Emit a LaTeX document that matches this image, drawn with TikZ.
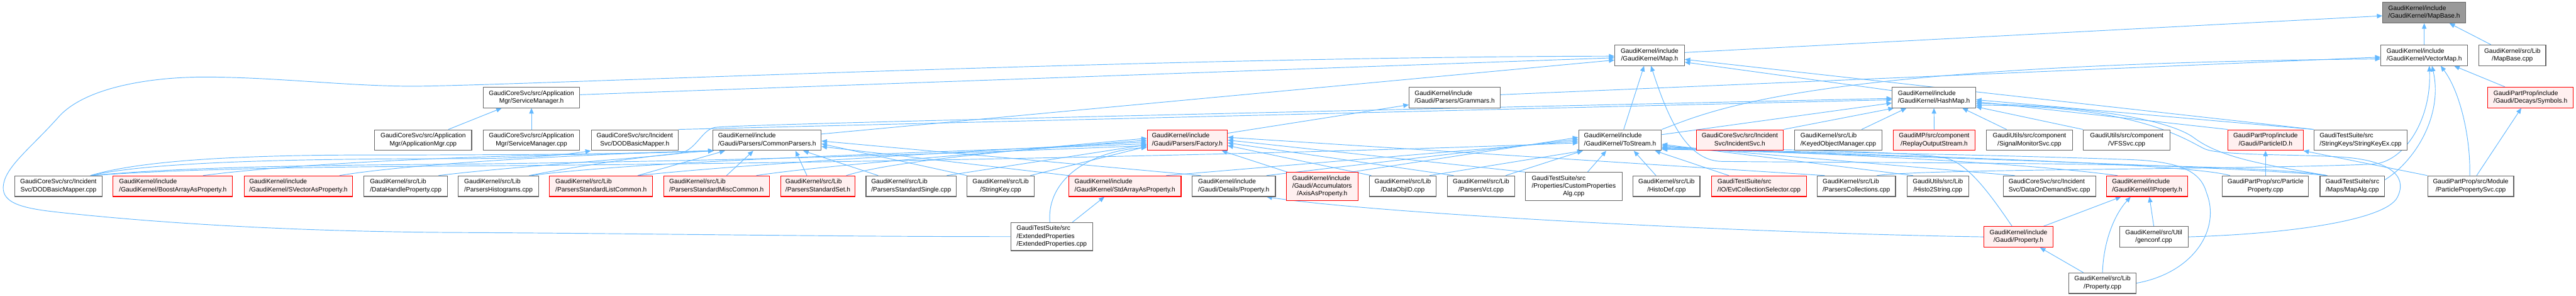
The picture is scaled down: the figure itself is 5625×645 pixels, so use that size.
\documentclass[tikz,border=0pt]{standalone}
\usepackage{fontspec}
\setmainfont{Liberation Sans}
\usetikzlibrary{arrows.meta}
\definecolor{edgec}{HTML}{63B8FF}
\definecolor{bordc}{HTML}{666666}
\definecolor{redb}{HTML}{FF0000}
\definecolor{redf}{HTML}{FFF0F0}
\definecolor{rootf}{HTML}{999999}
\newcommand\dlab[2]{\begin{tabular}{@{}l@{}}#1\\\multicolumn{1}{@{}c@{}}{#2}\end{tabular}}
\newcommand\tlab[3]{\begin{tabular}{@{}l@{}}#1\\#2\\\multicolumn{1}{@{}c@{}}{#3}\end{tabular}}
\pgfdeclarelayer{bg}\pgfsetlayers{bg,main}
\begin{document}
\begin{tikzpicture}[x=1pt,y=-1pt,
  nd/.style={draw=bordc, fill=white, line width=1.5pt, inner sep=0pt, minimum height=45pt, font=\fontsize{14}{17}\selectfont, text=black},
  rnd/.style={nd, draw=redb, fill=redf},
  gnd/.style={nd, draw=bordc, fill=rootf},
  nd3/.style={minimum height=61pt},
  dep/.style={draw=edgec, line width=1.3pt, -{Triangle[length=12pt,width=10pt]}}]
\useasboundingbox (0,0) rectangle (5625,645);
% row 0
\node[gnd,minimum width=181pt] (mapbase) at (5293.5,27.5) {\dlab{GaudiKernel/include}{/GaudiKernel/MapBase.h}};
% row 1
\node[nd,minimum width=152pt] (map) at (3602,120.5) {\dlab{GaudiKernel/include}{/GaudiKernel/Map.h}};
\node[nd,minimum width=189pt] (vmap) at (5293.5,120.5) {\dlab{GaudiKernel/include}{/GaudiKernel/VectorMap.h}};
\node[nd,minimum width=146pt] (mapbasecpp) at (5486,120.5) {\dlab{GaudiKernel/src/Lib}{/MapBase.cpp}};
% row 2
\node[nd,minimum width=211pt] (svcmgrh) at (1160.5,212.5) {\dlab{GaudiCoreSvc/src/Application}{Mgr/ServiceManager.h}};
\node[nd,minimum width=199pt] (grammars) at (3176.5,212.5) {\dlab{GaudiKernel/include}{/Gaudi/Parsers/Grammars.h}};
\node[nd,minimum width=182pt] (hashmap) at (4223,212.5) {\dlab{GaudiKernel/include}{/GaudiKernel/HashMap.h}};
\node[rnd,minimum width=187pt] (symbols) at (5525.5,212.5) {\dlab{GaudiPartProp/include}{/Gaudi/Decays/Symbols.h}};
% row 3
\node[nd,minimum width=212pt] (appmgr) at (924,305.5) {\dlab{GaudiCoreSvc/src/Application}{Mgr/ApplicationMgr.cpp}};
\node[nd,minimum width=211pt] (svcmgrcpp) at (1160.5,305.5) {\dlab{GaudiCoreSvc/src/Application}{Mgr/ServiceManager.cpp}};
\node[nd,minimum width=190pt] (dodh) at (1386,305.5) {\dlab{GaudiCoreSvc/src/Incident}{Svc/DODBasicMapper.h}};
\node[nd,minimum width=236pt] (common) at (1675,305.5) {\dlab{GaudiKernel/include}{/Gaudi/Parsers/CommonParsers.h}};
\node[rnd,minimum width=175pt] (factory) at (2592.5,305.5) {\dlab{GaudiKernel/include}{/Gaudi/Parsers/Factory.h}};
\node[nd,minimum width=181pt] (tostream) at (3537.5,305.5) {\dlab{GaudiKernel/include}{/GaudiKernel/ToStream.h}};
\node[rnd,minimum width=190pt] (incsvc) at (3799,305.5) {\dlab{GaudiCoreSvc/src/Incident}{Svc/IncidentSvc.h}};
\node[nd,minimum width=190pt] (keyed) at (4014,305.5) {\dlab{GaudiKernel/src/Lib}{/KeyedObjectManager.cpp}};
\node[rnd,minimum width=179pt] (replay) at (4223.5,305.5) {\dlab{GaudiMP/src/component}{/ReplayOutputStream.h}};
\node[nd,minimum width=189pt] (signal) at (4431.5,305.5) {\dlab{GaudiUtils/src/component}{/SignalMonitorSvc.cpp}};
\node[nd,minimum width=190pt] (vfs) at (4644,305.5) {\dlab{GaudiUtils/src/component}{/VFSSvc.cpp}};
\node[rnd,minimum width=164pt] (pid) at (4947,305.5) {\dlab{GaudiPartProp/include}{/Gaudi/ParticleID.h}};
\node[nd,minimum width=203pt] (skex) at (5154.5,305.5) {\dlab{GaudiTestSuite/src}{/StringKeys/StringKeyEx.cpp}};
% row 4
\node[nd,minimum width=191pt] (dodcpp) at (127.5,406) {\dlab{GaudiCoreSvc/src/Incident}{Svc/DODBasicMapper.cpp}};
\node[rnd,minimum width=261pt] (boost) at (377.5,406) {\dlab{GaudiKernel/include}{/GaudiKernel/BoostArrayAsProperty.h}};
\node[rnd,minimum width=237pt] (svector) at (651.5,406) {\dlab{GaudiKernel/include}{/GaudiKernel/SVectorAsProperty.h}};
\node[nd,minimum width=182pt] (dhp) at (886,406) {\dlab{GaudiKernel/src/Lib}{/DataHandleProperty.cpp}};
\node[nd,minimum width=175pt] (phisto) at (1088.5,406) {\dlab{GaudiKernel/src/Lib}{/ParsersHistograms.cpp}};
\node[rnd,minimum width=225pt] (plist) at (1312.5,406) {\dlab{GaudiKernel/src/Lib}{/ParsersStandardListCommon.h}};
\node[rnd,minimum width=231pt] (pmisc) at (1564.5,406) {\dlab{GaudiKernel/src/Lib}{/ParsersStandardMiscCommon.h}};
\node[rnd,minimum width=162pt] (pset) at (1786,406) {\dlab{GaudiKernel/src/Lib}{/ParsersStandardSet.h}};
\node[nd,minimum width=197pt] (psingle) at (1989.5,406) {\dlab{GaudiKernel/src/Lib}{/ParsersStandardSingle.cpp}};
\node[nd,minimum width=146pt] (skey) at (2185,406) {\dlab{GaudiKernel/src/Lib}{/StringKey.cpp}};
\node[rnd,minimum width=245pt] (stdarr) at (2456.5,406) {\dlab{GaudiKernel/include}{/GaudiKernel/StdArrayAsProperty.h}};
\node[nd,minimum width=182pt] (detprop) at (2694,406) {\dlab{GaudiKernel/include}{/Gaudi/Details/Property.h}};
\node[rnd,nd3,minimum width=156pt] (axis) at (2887,406.5) {\tlab{GaudiKernel/include}{/Gaudi/Accumulators}{/AxisAsProperty.h}};
\node[nd,minimum width=146pt] (dataobj) at (3063,406) {\dlab{GaudiKernel/src/Lib}{/DataObjID.cpp}};
\node[nd,minimum width=146pt] (pvct) at (3234,406) {\dlab{GaudiKernel/src/Lib}{/ParsersVct.cpp}};
\node[nd,nd3,minimum width=211pt] (custom) at (3436.5,406.5) {\tlab{GaudiTestSuite/src}{/Properties/CustomProperties}{Alg.cpp}};
\node[nd,minimum width=146pt] (histodef) at (3639,406) {\dlab{GaudiKernel/src/Lib}{/HistoDef.cpp}};
\node[rnd,minimum width=208pt] (evtcol) at (3841,406) {\dlab{GaudiTestSuite/src}{/IO/EvtCollectionSelector.cpp}};
\node[nd,minimum width=171pt] (pcoll) at (4053.5,406) {\dlab{GaudiKernel/src/Lib}{/ParsersCollections.cpp}};
\node[nd,minimum width=135pt] (h2s) at (4231.5,406) {\dlab{GaudiUtils/src/Lib}{/Histo2String.cpp}};
\node[nd,minimum width=202pt] (dods) at (4475,406) {\dlab{GaudiCoreSvc/src/Incident}{Svc/DataOnDemandSvc.cpp}};
\node[rnd,minimum width=177pt] (iprop) at (4688.5,406) {\dlab{GaudiKernel/include}{/GaudiKernel/IProperty.h}};
\node[nd,minimum width=188pt] (ppcpp) at (4947,406) {\dlab{GaudiPartProp/src/Particle}{Property.cpp}};
\node[nd,minimum width=141pt] (mapalg) at (5136.5,406) {\dlab{GaudiTestSuite/src}{/Maps/MapAlg.cpp}};
\node[nd,minimum width=188pt] (ppsvc) at (5395,406) {\dlab{GaudiPartProp/src/Module}{/ParticlePropertySvc.cpp}};
% row 5
\node[nd,nd3,minimum width=179pt] (ext) at (2296.5,516) {\tlab{GaudiTestSuite/src}{/ExtendedProperties}{/ExtendedProperties.cpp}};
\node[rnd,minimum width=151pt] (gprop) at (4407.5,516.5) {\dlab{GaudiKernel/include}{/Gaudi/Property.h}};
\node[nd,minimum width=150pt] (genconf) at (4703,516.5) {\dlab{GaudiKernel/src/Util}{/genconf.cpp}};
% row 6
\node[nd,minimum width=146pt] (propcpp) at (4591,617.5) {\dlab{GaudiKernel/src/Lib}{/Property.cpp}};

\begin{pgfonlayer}{bg}
% into MapBase.h
\draw[dep] ([yshift=6pt]map.east) -- ([yshift=-7pt]mapbase.west);
\draw[dep] (vmap.north) -- (mapbase.south);
\draw[dep] ([xshift=-47pt]mapbasecpp.north) -- ([xshift=55pt]mapbase.south);
% into Map.h
\draw[dep] ([yshift=6pt]svcmgrh.east) -- ([yshift=-5.5pt]map.west);
\draw[dep] ([yshift=-10pt]common.north east) -- ([yshift=-10.5pt]map.west);
\draw[dep] (ext.west) .. controls (1800,516) and (1400,509) .. (1000,507)
  .. controls (600,505) and (300,482) .. (120,462)
  .. controls (40,453) and (0,440) .. (8,400)
  .. controls (16,360) and (70,320) .. (128,255)
  .. controls (186,190) and (330,168) .. (446,168)
  .. controls (600,168) and (760,188) .. (900,188)
  .. controls (1100,188) and (2500,124) .. ([yshift=-2pt]map.west);
\draw[dep] ([xshift=8pt]tostream.north) -- ([xshift=-12pt]map.south);
\draw[dep] ([yshift=15pt]hashmap.west) -- ([yshift=-15pt]map.east);
\draw[dep] (skex.north west) -- ([yshift=-9pt]map.east);
\draw[dep] ([xshift=-55pt]mapalg.north) .. controls (4900,352) and (4100,356) .. (3760,352)
  .. controls (3680,351) and (3640,250) .. ([xshift=3pt]map.south);
% into VectorMap.h
\draw[dep] ([yshift=6pt]grammars.east) -- ([yshift=-4pt]vmap.west);
\draw[dep] (tostream.north east) .. controls (3740,240) and (3950,140) .. ([yshift=-8pt]vmap.west);
\draw[dep] ([xshift=-56pt]symbols.north) -- ([xshift=-30pt]vmap.south east);
\draw[dep] ([xshift=-2pt]ppsvc.north) .. controls (5395,300) and (5372,200) .. ([xshift=36pt]vmap.south);
\draw[dep] ([yshift=14pt]mapalg.east) .. controls (5275,350) and (5335,250) .. ([xshift=17pt]vmap.south);
\draw[dep] ([xshift=45pt]pcoll.north) .. controls (4200,368) and (4900,370) .. (5180,358)
  .. controls (5250,355) and (5310,260) .. ([xshift=11pt]vmap.south);
% into HashMap.h
\draw[dep] (dodh.north east) -- ([yshift=-5pt]hashmap.west);
\draw[dep] ([xshift=-20pt]dhp.north east) .. controls (1100,365) and (1400,345) .. (1480,335)
  .. controls (1520,330) and (1530,285) .. (1560,278)
  .. controls (1590,271) and (3000,240) .. ([yshift=-2pt]hashmap.west);
\draw[dep] ([yshift=12pt]tostream.east) -- ([yshift=-12pt]hashmap.west);
\draw[dep] (incsvc.north east) -- ([xshift=4pt]hashmap.south west);
\draw[dep] ([xshift=51pt]keyed.north) -- ([xshift=-60pt]hashmap.south);
\draw[dep] (replay.north) -- (hashmap.south);
\draw[dep] ([xshift=-50pt]signal.north) -- ([xshift=62pt]hashmap.south);
\draw[dep] (vfs.north west) -- ([yshift=3pt]hashmap.south east);
\draw[dep] (skex.north west) -- ([yshift=-5pt]hashmap.east);
\draw[dep] (pid.north west) -- ([yshift=-9pt]hashmap.east);
\draw[dep] ([xshift=-55pt]mapalg.north) .. controls (4950,360) and (4850,345) .. (4790,300)
  .. controls (4760,277.5) and (4650,235) .. ([yshift=-13pt]hashmap.east);
\draw[dep] (genconf.east) .. controls (5000,510) and (5210,480) .. (5235,430)
  .. controls (5260,380) and (5210,350) .. (5120,343)
  .. controls (5030,336) and (4850,340) .. (4815,325)
  .. controls (4780,310) and (4680,230) .. ([yshift=-17pt]hashmap.east);
% into CommonParsers.h
\draw[dep] ([xshift=70pt]dodcpp.north) .. controls (300,352) and (500,338) .. (800,338)
  .. controls (1100,338) and (1400,336) .. ([xshift=2pt]common.south west);
\draw[dep] ([xshift=66pt]boost.north) .. controls (600,362) and (900,345) .. (1200,338)
  .. controls (1400,334) and (1500,330) .. ([xshift=2pt]common.south west);
\draw[dep] ([xshift=90pt]svector.north) .. controls (900,356) and (1300,335) .. ([xshift=2pt]common.south west);
\draw[dep] ([xshift=67pt]phisto.north) .. controls (1300,355) and (1450,335) .. ([xshift=2pt]common.south west);
\draw[dep] ([xshift=80pt]plist.north) -- ([xshift=27pt]common.south west);
\draw[dep] ([xshift=22pt]pmisc.north) -- ([xshift=-30pt]common.south);
\draw[dep] ([xshift=-24pt]pset.north) -- ([xshift=62pt]common.south);
\draw[dep] ([xshift=-72pt]psingle.north) -- ([xshift=-40pt]common.south east);
\draw[dep] (skey.north west) -- ([yshift=-8pt]common.east);
\draw[dep] (stdarr.north west) -- ([yshift=-14pt]common.east);
\draw[dep] ([xshift=20pt]detprop.north west) -- ([yshift=-2pt]common.east);
% into DODBasicMapper.h
\draw[dep] ([xshift=70pt]dodcpp.north) .. controls (320,355) and (600,346) .. (1000,346)
  .. controls (1150,346) and (1230,338) .. (dodh.south west);
% into Factory.h
\draw[dep] ([xshift=72pt]dodcpp.north) .. controls (400,364) and (700,360) .. (1000,358)
  .. controls (1700,350) and (2200,330) .. ([yshift=-12pt]factory.west);
\draw[dep] ([xshift=72pt]phisto.north) .. controls (1400,350) and (2100,330) .. ([yshift=-8pt]factory.west);
\draw[dep] ([xshift=82pt]plist.north) .. controls (1600,360) and (2100,330) .. ([yshift=-4pt]factory.west);
\draw[dep] ([xshift=87pt]pmisc.north) .. controls (1800,360) and (2200,330) .. (factory.west);
\draw[dep] ([xshift=62pt]pset.north) .. controls (1950,350) and (2250,325) .. ([yshift=4pt]factory.west);
\draw[dep] ([xshift=78pt]psingle.north) -- ([yshift=-10pt]factory.west);
\draw[dep] ([xshift=65pt]skey.north) -- ([yshift=-14pt]factory.west);
\draw[dep] ([xshift=-4pt]ext.north) .. controls (2285,390) and (2380,330) .. ([yshift=-16pt]factory.west);
\draw[dep] ([xshift=3pt]axis.north west) -- ([xshift=-13pt]factory.south east);
\draw[dep] ([xshift=5pt]dataobj.north west) -- ([yshift=-12pt]factory.east);
\draw[dep] ([xshift=14pt]pvct.north west) -- ([yshift=-6pt]factory.east);
\draw[dep] (custom.north west) -- (factory.east);
\draw[dep] ([xshift=17pt]pcoll.north west) -- ([yshift=6pt]factory.east);
% into Grammars.h
\draw[dep] ([yshift=15pt]factory.east) -- ([yshift=-16pt]grammars.west);
% into ToStream.h
\draw[dep] ([xshift=74pt]dodcpp.north) .. controls (400,368) and (700,364) .. (1000,362)
  .. controls (2000,355) and (3000,330) .. ([yshift=-6pt]tostream.west);
\draw[dep] ([xshift=90pt]stdarr.north) -- ([yshift=-2pt]tostream.west);
\draw[dep] ([xshift=-20pt]detprop.north east) -- ([yshift=2pt]tostream.west);
\draw[dep] ([xshift=-15pt]axis.north east) -- ([yshift=6pt]tostream.west);
\draw[dep] ([xshift=-15pt]dataobj.north east) -- ([xshift=10pt]tostream.south west);
\draw[dep] ([xshift=-20pt]pvct.north east) -- ([xshift=10pt]tostream.south west);
\draw[dep] ([xshift=30pt]custom.north) -- ([xshift=-30pt]tostream.south);
\draw[dep] ([xshift=-23pt]histodef.north) -- ([xshift=30pt]tostream.south);
\draw[dep] ([xshift=-66pt]evtcol.north) -- ([xshift=-15pt]tostream.south east);
\draw[dep] ([xshift=14pt]h2s.north west) -- ([yshift=-9pt]tostream.east);
\draw[dep] ([xshift=26pt]dods.north west) -- ([yshift=-12pt]tostream.east);
\draw[dep] ([xshift=-65pt]iprop.north) .. controls (4400,353) and (4000,336) .. ([yshift=-15pt]tostream.east);
\draw[dep] ([xshift=-14pt]gprop.north) .. controls (4350,430) and (4300,358) .. (4250,345)
  .. controls (4200,332) and (3900,325) .. ([yshift=-17pt]tostream.east);
\draw[dep] (propcpp.east) .. controls (4790,595) and (4850,500) .. (4818,420)
  .. controls (4805,373) and (4760,352) .. (4650,348)
  .. controls (4300,336) and (3900,330) .. ([yshift=-20pt]tostream.east);
\draw[dep] ([xshift=17pt]ppcpp.north west) .. controls (4800,362) and (4400,345) .. ([yshift=-18pt]tostream.east);
\draw[dep] ([xshift=-55pt]mapalg.north) .. controls (4900,365) and (4300,345) .. ([yshift=-19pt]tostream.east);
% into IProperty.h, Gaudi/Property.h, Details/Property.h, StdArrayAsProperty.h
\draw[dep] ([xshift=55pt]gprop.north) -- ([xshift=-57pt]iprop.south);
\draw[dep] (propcpp.north) .. controls (4593,530) and (4615,470) .. ([xshift=-36pt]iprop.south);
\draw[dep] (genconf.north) -- ([xshift=5pt]iprop.south);
\draw[dep] ([xshift=-42pt]propcpp.north) -- ([xshift=47pt]gprop.south);
\draw[dep] (gprop.west) .. controls (3800,508) and (3000,465) .. ([xshift=-20pt]detprop.south east);
\draw[dep] ([xshift=45pt]ext.north) -- ([xshift=-45pt]stdarr.south);
% into ServiceManager.h
\draw[dep] ([xshift=55pt]appmgr.north) -- ([xshift=-65pt]svcmgrh.south);
\draw[dep] (svcmgrcpp.north) -- (svcmgrh.south);
% into ParticleID.h and Symbols.h
\draw[dep] (ppcpp.north) -- (pid.south);
\draw[dep] (ppsvc.north west) -- (pid.south east);
\draw[dep] ([xshift=13pt]ppsvc.north) -- ([xshift=-20pt]symbols.south);
\end{pgfonlayer}
\end{tikzpicture}
\end{document}
